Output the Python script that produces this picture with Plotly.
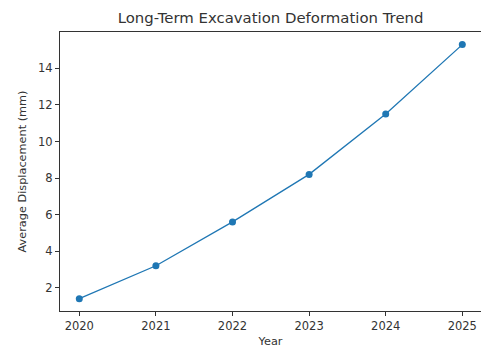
import plotly.graph_objects as go

# Yearly mean displacement of the excavation monitoring points
years = [2020, 2021, 2022, 2023, 2024, 2025]
avg_displacement_mm = [1.4, 3.2, 5.6, 8.2, 11.5, 15.3]
y_ticks = [2, 4, 6, 8, 10, 12, 14]

FONT = "DejaVu Sans"
BLUE = "#1f77b4"
AXIS = "#333333"

fig = go.Figure(
    go.Scatter(
        x=years,
        y=avg_displacement_mm,
        mode="lines+markers",
        line=dict(color=BLUE, width=1.3),
        marker=dict(color=BLUE, size=7),
        showlegend=False,
    )
)

fig.update_layout(
    width=481,
    height=349,
    margin=dict(l=60, r=0, t=32, b=38),
    paper_bgcolor="white",
    plot_bgcolor="white",
    font=dict(family=FONT, size=11, color="#333333"),
    title=dict(
        text="Long-Term Excavation Deformation Trend",
        x=0.5625,
        xanchor="center",
        y=0.948,
        yanchor="middle",
        font=dict(family=FONT, size=14.9, color="#333333"),
    ),
    xaxis=dict(
        range=[2019.748, 2025.244],
        tickvals=years,
        ticktext=[str(y) for y in years],
        showgrid=False,
        zeroline=False,
        showline=True,
        linecolor=AXIS,
        linewidth=1,
        mirror=True,
        ticks="outside",
        ticklen=4,
        tickcolor=AXIS,
        tickfont=dict(size=11.5),
        title=dict(text="Year", font=dict(size=11.3), standoff=5),
    ),
    yaxis=dict(
        range=[0.725, 15.99],
        tickvals=y_ticks,
        showgrid=False,
        zeroline=False,
        showline=True,
        linecolor=AXIS,
        linewidth=1,
        mirror=False,
        ticks="outside",
        ticklen=4,
        tickcolor=AXIS,
        tickfont=dict(size=11.5),
        title=dict(text="Average Displacement (mm)", font=dict(size=11.3), standoff=9),
    ),
)

fig.write_html("out.html")
